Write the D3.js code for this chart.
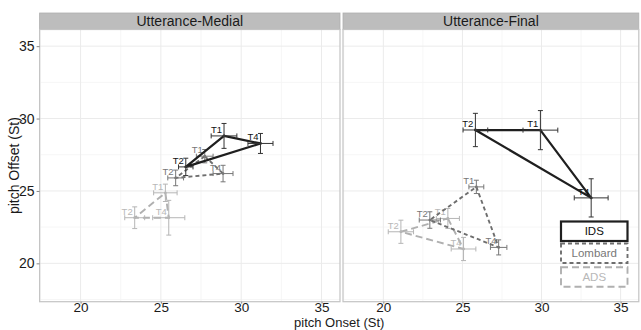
<!DOCTYPE html>
<html>
<head>
<meta charset="utf-8">
<script src="https://cdn.jsdelivr.net/npm/d3@7"></script>
<style>
  body { margin: 0; background: #fff; }
  text { font-family: "Liberation Sans", Arial, sans-serif; }
</style>
</head>
<body>
<script>
// facets and conditions
const panels = ["Utterance-Medial", "Utterance-Final"];
const conditions = ["IDS", "Lombard", "ADS"];
const tones = ["T1", "T2", "T4"];

// per panel, per condition: [onset, offset, onsetErr, offsetErr] for T1, T2, T4
const medialIDS     = [[28.93, 28.80, 0.80, 0.86], [26.55, 26.66, 0.45, 0.60], [31.20, 28.28, 0.78, 0.69]];
const medialLombard = [[27.73, 27.40, 0.52, 0.46], [25.92, 25.90, 0.49, 0.54], [28.87, 26.20, 0.62, 0.57]];
const medialADS     = [[25.28, 24.87, 0.73, 0.60], [23.37, 23.15, 0.62, 0.75], [25.49, 23.15, 1.00, 1.20]];
const finalIDS      = [[29.93, 29.20, 1.10, 1.35], [25.82, 29.21, 0.78, 1.15], [33.14, 24.52, 1.07, 1.32]];
const finalLombard  = [[25.88, 25.28, 0.47, 0.46], [22.94, 22.99, 0.67, 0.57], [27.29, 21.10, 0.52, 0.52]];
const finalADS      = [[24.08, 23.10, 0.73, 0.69], [21.11, 22.18, 0.80, 0.80], [25.07, 20.99, 0.78, 0.80]];

const xTicks = [20, 25, 30, 35];
const yTicks = [20, 25, 30, 35];

const styles = {
  IDS:     { color: "#1f1f1f", width: 2.2, dash: null,  text: "#111",    err: "#333" },
  Lombard: { color: "#6e6e6e", width: 1.9, dash: "4,3", text: "#777",    err: "#777" },
  ADS:     { color: "#b0b0b0", width: 1.9, dash: "7,4", text: "#b8b8b8", err: "#b5b5b5" }
};

const data = [];
[[medialIDS, medialLombard, medialADS], [finalIDS, finalLombard, finalADS]].forEach((sets, pi) => {
  sets.forEach((rows, ci) => {
    rows.forEach((r, ti) => data.push({
      panel: panels[pi], cond: conditions[ci], tone: tones[ti],
      x: r[0], y: r[1], ex: r[2], ey: r[3]
    }));
  });
});

const W = 641, H = 330;
const svg = d3.select("body").append("svg").attr("width", W).attr("height", H);

const panelX = [[39.6, 340], [343, 638.8]];
const stripTop = 13, stripH = 16.5, plotTop = stripTop + stripH, plotBottom = 301.7;

const y = d3.scaleLinear().domain([17.35, 36.15]).range([plotBottom, plotTop]);

panels.forEach((pname, pi) => {
  const [x0, x1] = panelX[pi];
  const x = d3.scaleLinear().domain([17.45, 36.15]).range([x0, x1]);
  const g = svg.append("g");

  // strip
  g.append("rect").attr("x", x0).attr("y", stripTop).attr("width", x1 - x0).attr("height", stripH)
    .attr("fill", "#bdbdbd").attr("stroke", "#b0b0b0").attr("stroke-width", 0.8);
  g.append("text").attr("x", (x0 + x1) / 2).attr("y", stripTop + stripH / 2 + 5)
    .attr("text-anchor", "middle").attr("font-size", 14).attr("fill", "#1a1a1a").text(pname);

  // grid
  const minorX = d3.range(17.5, 36.2, 2.5).filter(v => v % 5 !== 0);
  const minorY = d3.range(17.5, 36.2, 2.5).filter(v => v % 5 !== 0);
  g.selectAll(".mx").data(minorX).join("line")
    .attr("x1", d => x(d)).attr("x2", d => x(d)).attr("y1", plotTop).attr("y2", plotBottom)
    .attr("stroke", "#f4f4f4").attr("stroke-width", 0.8);
  g.selectAll(".my").data(minorY).join("line")
    .attr("y1", d => y(d)).attr("y2", d => y(d)).attr("x1", x0).attr("x2", x1)
    .attr("stroke", "#f4f4f4").attr("stroke-width", 0.8);
  g.selectAll(".gx").data(xTicks).join("line")
    .attr("x1", d => x(d)).attr("x2", d => x(d)).attr("y1", plotTop).attr("y2", plotBottom)
    .attr("stroke", "#ebebeb").attr("stroke-width", 1);
  g.selectAll(".gy").data(yTicks).join("line")
    .attr("y1", d => y(d)).attr("y2", d => y(d)).attr("x1", x0).attr("x2", x1)
    .attr("stroke", "#ebebeb").attr("stroke-width", 1);

  // panel border
  g.append("rect").attr("x", x0).attr("y", plotTop).attr("width", x1 - x0).attr("height", plotBottom - plotTop)
    .attr("fill", "none").attr("stroke", "#c4c4c4").attr("stroke-width", 1.2);

  // x axis
  const xa = g.append("g").attr("transform", `translate(0,${plotBottom})`)
    .call(d3.axisBottom(x).tickValues(xTicks).tickSize(2).tickPadding(-1));
  xa.select(".domain").remove();
  xa.selectAll("line").attr("stroke", "#888");
  xa.selectAll("text").attr("font-size", 13.5).attr("fill", "#1a1a1a")
    .attr("font-family", "Liberation Sans, Arial, sans-serif");

  if (pi === 0) {
    const ya = g.append("g").attr("transform", `translate(${x0},0)`)
      .call(d3.axisLeft(y).tickValues(yTicks).tickSize(3).tickPadding(2));
    ya.select(".domain").remove();
    ya.selectAll("line").attr("stroke", "#888");
    ya.selectAll("text").attr("font-size", 14).attr("fill", "#1a1a1a")
      .attr("font-family", "Liberation Sans, Arial, sans-serif");
  }

  // draw conditions back to front
  const pd = data.filter(d => d.panel === pname);
  ["ADS", "Lombard", "IDS"].forEach(c => {
    const s = styles[c];
    const pts = pd.filter(d => d.cond === c);
    const byTone = Object.fromEntries(pts.map(d => [d.tone, d]));
    const order = [byTone.T1, byTone.T4, byTone.T2];

    g.append("path")
      .attr("d", d3.line().x(d => x(d.x)).y(d => y(d.y))(order) + "Z")
      .attr("fill", "none").attr("stroke", s.color).attr("stroke-width", s.width)
      .attr("stroke-dasharray", s.dash).attr("stroke-linejoin", "round");

    const eg = g.append("g").attr("stroke", s.err).attr("stroke-width", 1);
    pts.forEach(d => {
      const cx = x(d.x), cy = y(d.y), cap = 2.5;
      const xl = x(d.x - d.ex), xr = x(d.x + d.ex);
      const yt = y(d.y + d.ey), yb = y(d.y - d.ey);
      eg.append("line").attr("x1", xl).attr("x2", xr).attr("y1", cy).attr("y2", cy);
      eg.append("line").attr("x1", xl).attr("x2", xl).attr("y1", cy - cap).attr("y2", cy + cap);
      eg.append("line").attr("x1", xr).attr("x2", xr).attr("y1", cy - cap).attr("y2", cy + cap);
      eg.append("line").attr("x1", cx).attr("x2", cx).attr("y1", yt).attr("y2", yb);
      eg.append("line").attr("x1", cx - cap).attr("x2", cx + cap).attr("y1", yt).attr("y2", yt);
      eg.append("line").attr("x1", cx - cap).attr("x2", cx + cap).attr("y1", yb).attr("y2", yb);
    });

    g.selectAll(null).data(pts).join("circle")
      .attr("cx", d => x(d.x)).attr("cy", d => y(d.y)).attr("r", 1.4)
      .attr("fill", s.err);

    g.selectAll(null).data(pts).join("text")
      .attr("x", d => x(d.x) - 2).attr("y", d => y(d.y) - 3)
      .attr("text-anchor", "end").attr("font-size", 9.5).attr("fill", s.text)
      .text(d => d.tone);
  });

  // legend boxes inside the final panel
  if (pi === 1) {
    const lx = 561, lw = 66.5, lh = 19.5;
    const ly = [221.5, 243.5, 267.2];
    conditions.forEach((c, i) => {
      const s = styles[c];
      g.append("rect").attr("x", lx).attr("y", ly[i]).attr("width", lw).attr("height", lh)
        .attr("fill", "#fff").attr("stroke", s.color).attr("stroke-width", c === "IDS" ? 2.2 : 1.9)
        .attr("stroke-dasharray", s.dash);
      g.append("text").attr("x", lx + lw / 2).attr("y", ly[i] + lh / 2 + 4)
        .attr("text-anchor", "middle").attr("font-size", 11.5).attr("fill", s.text).text(c);
    });
  }
});

// axis titles
svg.append("text").attr("x", (39.6 + 638.8) / 2).attr("y", 327)
  .attr("text-anchor", "middle").attr("font-size", 13).attr("fill", "#1a1a1a").text("pitch Onset (St)");
svg.append("text").attr("transform", `translate(19,${(plotTop + plotBottom) / 2}) rotate(-90)`)
  .attr("text-anchor", "middle").attr("font-size", 14).attr("fill", "#1a1a1a").text("pitch Offset (St)");
</script>
</body>
</html>
